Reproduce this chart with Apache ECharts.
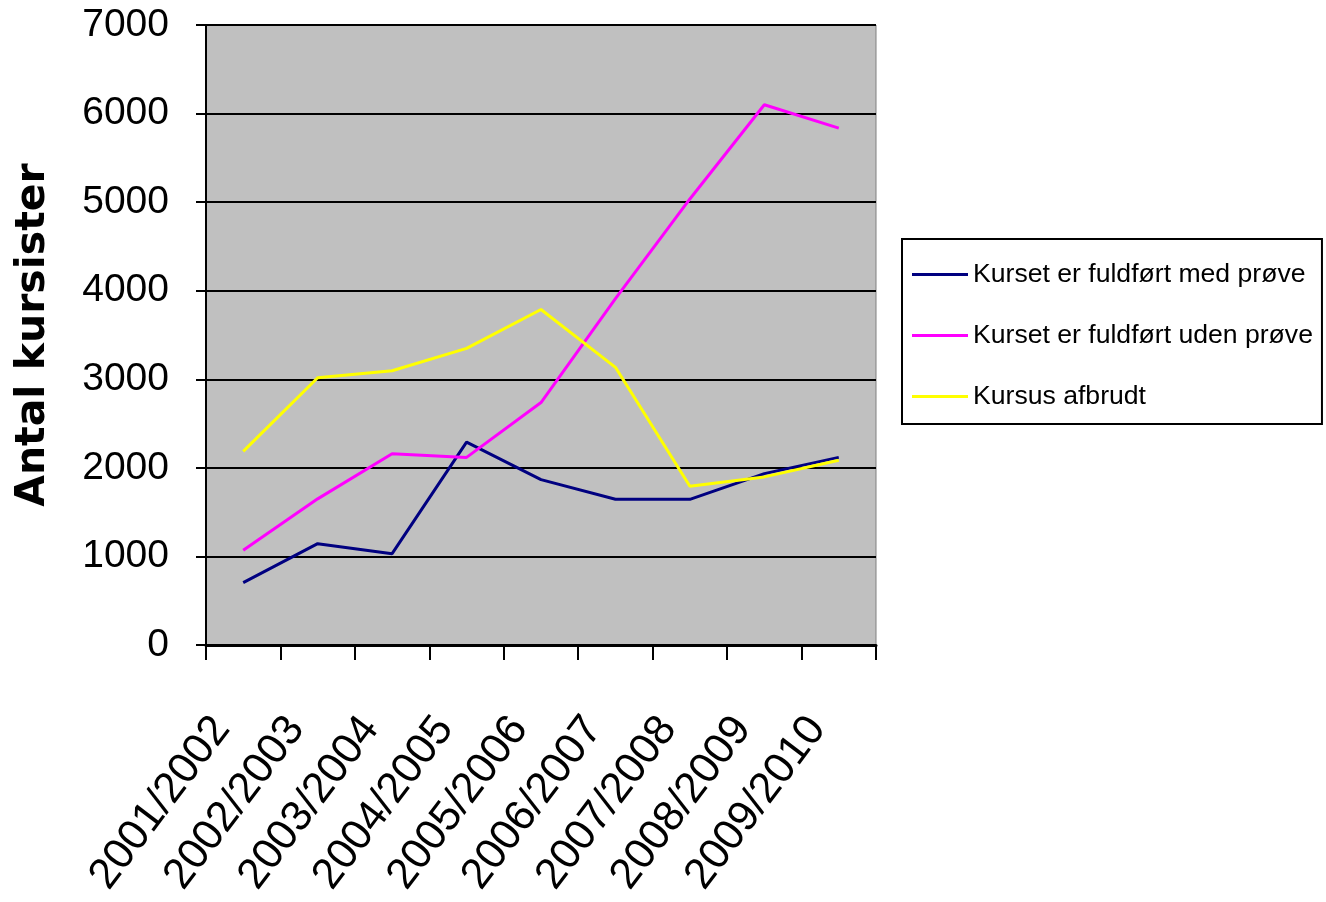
<!DOCTYPE html>
<html>
<head>
<meta charset="utf-8">
<script src="https://cdn.jsdelivr.net/npm/echarts@6/dist/echarts.min.js"></script>
<style>html,body{margin:0;padding:0;background:#fff}#c{width:1326px;height:902px}</style>
</head>
<body>
<div id="c"></div>
<script>
const categories = ['2001/2002','2002/2003','2003/2004','2004/2005','2005/2006','2006/2007','2007/2008','2008/2009','2009/2010'];
const medProeve = [705, 1144, 1031, 2291, 1867, 1645, 1645, 1935, 2118];
const udenProeve = [1069, 1650, 2160, 2118, 2737, 3911, 5036, 6100, 5835];
const afbrudt = [2186, 3018, 3097, 3349, 3788, 3135, 1792, 1898, 2085];
const seriesNames = ['Kurset er fuldført med prøve', 'Kurset er fuldført uden prøve', 'Kursus afbrudt'];
const yTitle = 'Antal kursister';

const chart = echarts.init(document.getElementById('c'), null, {renderer: 'canvas'});
chart.setOption({
  animation: false,
  backgroundColor: '#ffffff',
  grid: {
    left: 206, right: 450, top: 25, bottom: 257,
    containLabel: false, outerBoundsMode: 'none',
    show: true, backgroundColor: '#C0C0C0', borderColor: '#808080', borderWidth: 1
  },
  legend: {
    orient: 'vertical',
    left: 902, top: 239,
    padding: [22, 9, 14, 10],
    itemGap: 34,
    itemWidth: 56, itemHeight: 3,
    itemTextGap: 10,
    icon: 'rect',
    borderColor: '#000', borderWidth: 2,
    backgroundColor: '#fff',
    textStyle: {fontFamily: 'Liberation Sans', fontSize: 26.6, color: '#000'},
    data: seriesNames
  },
  xAxis: {
    type: 'category',
    data: categories,
    boundaryGap: true,
    axisLine: {lineStyle: {color: '#000', width: 3}},
    axisTick: {show: true, length: 15, lineStyle: {color: '#000', width: 2}},
    axisLabel: {rotate: 53, margin: 48, padding: [0, 36, 0, 0], fontFamily: 'Liberation Sans', fontSize: 43, color: '#000', interval: 0}
  },
  yAxis: {
    type: 'value',
    min: 0, max: 7000, interval: 1000,
    name: yTitle,
    nameLocation: 'middle',
    nameGap: 152,
    nameTextStyle: {fontFamily: 'DejaVu Sans', fontWeight: 'bold', fontSize: 41, color: '#000'},
    axisLine: {show: true, lineStyle: {color: '#000', width: 2}},
    axisTick: {show: true, length: 10, lineStyle: {color: '#000', width: 2}},
    axisLabel: {margin: 37, fontFamily: 'Liberation Sans', fontSize: 39, color: '#000',
      formatter: function (v) { return String(v); }},
    splitLine: {show: true, lineStyle: {color: '#000', width: 2}}
  },
  series: [
    {name: seriesNames[0], type: 'line', data: medProeve, symbol: 'none', color: '#000080',
     lineStyle: {color: '#000080', width: 3}},
    {name: seriesNames[1], type: 'line', data: udenProeve, symbol: 'none', color: '#FF00FF',
     lineStyle: {color: '#FF00FF', width: 3}},
    {name: seriesNames[2], type: 'line', data: afbrudt, symbol: 'none', color: '#FFFF00',
     lineStyle: {color: '#FFFF00', width: 3}}
  ]
});
</script>
</body>
</html>
